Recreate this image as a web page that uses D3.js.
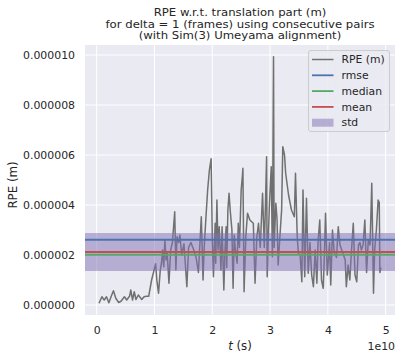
<!DOCTYPE html>
<html><head><meta charset="utf-8">
<script src="https://cdn.jsdelivr.net/npm/d3@7"></script>
<style>body{margin:0;background:#fff} text{font-family:"DejaVu Sans",sans-serif;fill:#262626}</style>
</head><body><svg id="c" width="402" height="356"></svg>
<script>
// ---- data ----
const titleLines = ["RPE w.r.t. translation part (m)", "for delta = 1 (frames) using consecutive pairs", "(with Sim(3) Umeyama alignment)"];
// time, in units of 1e10 s
const tVals = [0.04,0.09,0.13,0.17,0.21,0.26,0.29,0.33,0.38,0.42,0.48,0.52,0.57,0.59,0.62,0.65,0.68,0.72,0.78,0.82,0.86,0.90,0.95,1.02,1.04,1.07,1.10,1.12,1.14,1.16,1.18,1.20,1.22,1.25,1.28,1.31,1.35,1.37,1.39,1.42,1.44,1.47,1.51,1.56,1.59,1.63,1.68,1.72,1.76,1.81,1.84,1.86,1.89,1.92,1.95,1.98,2.00,2.02,2.05,2.06,2.08,2.10,2.12,2.15,2.17,2.20,2.22,2.24,2.25,2.27,2.29,2.31,2.34,2.36,2.38,2.40,2.43,2.45,2.47,2.50,2.52,2.53,2.55,2.58,2.61,2.65,2.71,2.74,2.77,2.80,2.83,2.87,2.90,2.92,2.94,2.95,2.97,2.99,3.02,3.04,3.06,3.07,3.10,3.12,3.14,3.17,3.20,3.22,3.25,3.27,3.32,3.37,3.42,3.44,3.47,3.49,3.52,3.55,3.57,3.60,3.63,3.66,3.69,3.72,3.75,3.78,3.81,3.83,3.86,3.89,3.92,3.94,3.96,3.99,4.03,4.05,4.08,4.11,4.15,4.18,4.21,4.24,4.27,4.30,4.32,4.35,4.38,4.41,4.44,4.47,4.50,4.53,4.555,4.58,4.61,4.64,4.67,4.70,4.73,4.76,4.79,4.81,4.84,4.87,4.89,4.90,4.92];
// RPE, in units of 1e-6 m
const rpeVals = [0.07,0.33,0.2,0.33,0.09,0.4,0.57,0.27,0.1,0.15,0.33,0.2,0.36,0.6,0.2,0.53,0.22,0.4,0.22,0.33,0.35,0.35,1.0,1.65,1.0,0.47,1.4,1.67,2.2,1.53,2.6,1.8,2.1,0.87,2.2,2.5,3.73,1.4,2.73,2.5,2.8,2.0,2.45,0.73,2.3,2.5,2.2,1.9,1.3,3.53,1.0,2.3,3.5,4.6,5.4,5.85,2.73,1.13,3.27,1.67,4.2,2.2,3.13,1.4,3.13,0.6,2.2,3.13,1.5,3.8,4.47,3.8,3.0,0.67,2.8,2.2,1.67,3.27,2.3,4.6,5.13,5.47,0.53,2.73,3.67,3.4,3.27,0.87,2.7,3.27,2.3,4.47,2.3,4.0,5.93,1.13,2.73,4.07,5.53,1.93,9.93,2.3,4.07,3.47,1.6,2.73,3.8,6.33,6.0,5.27,4.4,3.8,3.53,5.27,2.73,2.07,2.0,0.93,4.6,1.13,4.27,1.27,2.5,1.2,0.73,2.2,0.87,2.5,3.4,1.0,0.67,2.0,3.67,1.2,2.5,0.8,3.0,2.1,1.9,3.13,2.4,2.2,2.0,1.8,0.73,1.6,1.0,2.2,3.27,1.2,0.93,2.4,2.5,2.2,2.4,3.4,1.3,2.6,2.4,4.87,0.47,2.2,3.0,4.2,4.1,1.3,1.5];
const statNames = ["rmse", "median", "mean"];
const statVals = [2.61, 2.01, 2.12];   // 1e-6 m
const stdVal = 0.76;                   // 1e-6 m, band = mean ± std
const legendLabels = ["RPE (m)", "rmse", "median", "mean", "std"];
const xTicks = [0, 1, 2, 3, 4, 5];
const yTicks = [0, 2, 4, 6, 8, 10];
const xOffsetLabel = "1e10";
const yLabel = "RPE (m)";

// ---- styles ----
const colors = {rpe: "#707070", rmse: "#4C72B0", median: "#55A868", mean: "#C44E52", std: "#8172B2"};

const svg = d3.select("#c");
const L = 85, R = 395, T = 45, B = 315;
const x = d3.scaleLinear().domain([-0.2025, 5.162]).range([L, R]);
const y = d3.scaleLinear().domain([-0.4, 10.4]).range([B, T]);

svg.append("rect").attr("x", L).attr("y", T).attr("width", R - L).attr("height", B - T).attr("fill", "#EAEAF2");

const grid = svg.append("g");
grid.selectAll("line.gx").data(xTicks).join("line")
  .attr("x1", d => x(d)).attr("x2", d => x(d)).attr("y1", T).attr("y2", B)
  .attr("stroke", "#fff").attr("stroke-width", 1);
grid.selectAll("line.gy").data(yTicks).join("line")
  .attr("y1", d => y(d)).attr("y2", d => y(d)).attr("x1", L).attr("x2", R)
  .attr("stroke", "#fff").attr("stroke-width", 1);

// axes (no spines)
const xAxis = svg.append("g").attr("transform", `translate(0,${B})`)
  .call(d3.axisBottom(x).tickValues(xTicks).tickSize(0).tickPadding(11).tickFormat(d3.format("d")));
const yAxis = svg.append("g").attr("transform", `translate(${L},0)`)
  .call(d3.axisLeft(y).tickValues(yTicks).tickSize(0).tickPadding(10).tickFormat(d => (d * 1e-6).toFixed(6)));
[xAxis, yAxis].forEach(a => { a.select(".domain").remove(); a.selectAll("text").attr("font-size", 10.9).attr("font-family", "DejaVu Sans").attr("fill", "#262626"); });

svg.append("clipPath").attr("id", "pc").append("rect").attr("x", L).attr("y", T).attr("width", R - L).attr("height", B - T);
const plot = svg.append("g").attr("clip-path", "url(#pc)");

const pts = tVals.map((t, i) => [t, rpeVals[i]]);
plot.append("path").datum(pts)
  .attr("d", d3.line().x(d => x(d[0])).y(d => y(d[1])))
  .attr("fill", "none").attr("stroke", colors.rpe).attr("stroke-width", 1.5).attr("stroke-linejoin", "round");

const meanV = statVals[2];
plot.append("rect").attr("x", L).attr("width", R - L)
  .attr("y", y(meanV + stdVal)).attr("height", y(meanV - stdVal) - y(meanV + stdVal))
  .attr("fill", colors.std).attr("fill-opacity", 0.5);

plot.selectAll("line.stat").data(statNames).join("line")
  .attr("x1", L).attr("x2", R).attr("y1", (d, i) => y(statVals[i])).attr("y2", (d, i) => y(statVals[i]))
  .attr("stroke", d => colors[d]).attr("stroke-width", 1.8);

// titles (slightly wide glyphs, as in the reference)
svg.selectAll("text.title").data(titleLines).join("text").attr("class", "title")
  .attr("transform", (d, i) => `translate(240,${15.7 + i * 11.8}) scale(1.17,1)`)
  .attr("text-anchor", "middle").attr("font-size", 10).text(d => d);

svg.append("text").attr("transform", `translate(16.5,${(T + B) / 2 + 5}) rotate(-90)`)
  .attr("text-anchor", "middle").attr("font-size", 11.8).text(yLabel);
const xl = svg.append("text").attr("x", 240).attr("y", 349.5).attr("text-anchor", "middle").attr("font-size", 11.8);
xl.append("tspan").attr("font-style", "italic").text("t");
xl.append("tspan").text(" (s)");
svg.append("text").attr("x", R).attr("y", 349.5).attr("text-anchor", "end").attr("font-size", 10.9).text(xOffsetLabel);

// legend
const lg = svg.append("g").attr("transform", "translate(308.5,50.5)");
lg.append("rect").attr("width", 81).attr("height", 81).attr("rx", 2.5)
  .attr("fill", "#EAEAF2").attr("fill-opacity", 0.8).attr("stroke", "#cccccc").attr("stroke-width", 1);
const keys = ["rpe", "rmse", "median", "mean", "std"];
const rows = lg.selectAll("g.row").data(legendLabels).join("g")
  .attr("transform", (d, i) => `translate(0,${9 + i * 15.8})`);
rows.each(function (d, i) {
  const g = d3.select(this);
  if (keys[i] === "std") {
    g.append("rect").attr("x", 3.5).attr("y", -4).attr("width", 21.5).attr("height", 8)
      .attr("fill", colors.std).attr("fill-opacity", 0.5);
  } else {
    g.append("line").attr("x1", 3.5).attr("x2", 25).attr("y1", 0).attr("y2", 0)
      .attr("stroke", colors[keys[i]]).attr("stroke-width", keys[i] === "rpe" ? 1.5 : 1.8);
  }
  g.append("text").attr("x", 33).attr("y", 0).attr("dy", "0.35em").attr("font-size", 10.8).text(d);
});
</script></body></html>
